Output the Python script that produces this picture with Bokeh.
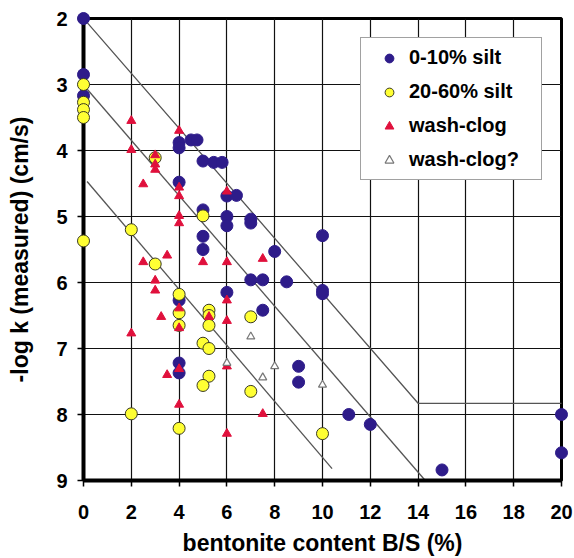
from bokeh.plotting import figure
from bokeh.models import Range1d, Legend, LegendItem, FixedTicker
from bokeh.embed import file_html
from bokeh.resources import INLINE

# ---- data ----
silt_low_x = [0, 0, 0, 4, 4, 4.5, 4.75, 5, 5.45, 5.8, 4, 6, 6.4, 5, 6, 6, 7, 7, 5, 5, 8, 10,
              7, 7.5, 8.5, 6, 4, 7.5, 10, 10, 4, 4, 9, 9, 11.1, 12, 15, 20, 20]
silt_low_y = [2.0, 2.85, 3.17, 3.88, 3.96, 3.84, 3.84, 4.16, 4.18, 4.18, 4.48, 4.69, 4.68, 4.9,
              5.0, 5.14, 5.04, 5.1, 5.3, 5.5, 5.53, 5.29, 5.96, 5.96, 5.99, 6.15, 6.27, 6.42,
              6.12, 6.17, 7.22, 7.37, 7.27, 7.51, 8.0, 8.15, 8.84, 8.0, 8.58]

silt_high_x = [0, 0, 0, 0, 0, 3, 5, 2, 3, 4, 4, 4, 5.25, 5.25, 5.25, 5, 5.25, 5.25, 5, 7, 7,
               2, 4, 10]
silt_high_y = [3.0, 3.27, 3.38, 3.5, 5.37, 4.11, 4.99, 5.2, 5.72, 6.18, 6.46, 6.65, 6.42, 6.5,
               6.65, 6.92, 7.0, 7.42, 7.56, 6.52, 7.65, 7.99, 8.21, 8.29]

clog_x = [2, 2, 4, 3, 3, 3, 2.5, 4, 4, 4, 4, 6, 2.5, 3.5, 5, 6, 7.5, 3, 3, 3.25, 2, 4, 4,
          5.25, 6, 6, 4, 3.5, 6, 4, 6, 7.5]
clog_y = [3.55, 3.99, 3.7, 4.07, 4.21, 4.29, 4.51, 4.56, 4.69, 4.99, 5.1, 4.62, 5.69, 5.59,
          5.69, 5.69, 5.64, 5.97, 6.12, 6.52, 6.77, 6.39, 6.69, 6.52, 6.27, 6.58, 7.31, 7.4,
          7.27, 7.85, 8.29, 7.99]

clogq_x = [7, 6, 8, 7.5, 10]
clogq_y = [6.82, 7.22, 7.27, 7.44, 7.55]

# envelope lines
env1_x = [0.1, 14.0, 20.2]
env1_y = [2.04, 7.83, 7.83]
env2_x = [0.1, 14.3]
env2_y = [3.05, 9.0]
env3_x = [0.15, 10.4]
env3_y = [4.47, 8.82]

x_ticks = [0, 2, 4, 6, 8, 10, 12, 14, 16, 18, 20]
y_ticks = [2, 3, 4, 5, 6, 7, 8, 9]

labels = ["0-10% silt", "20-60% silt", "wash-clog", "wash-clog?"]

FONT = "Liberation Sans"

p = figure(width=574, height=558, output_backend="svg", toolbar_location=None,
           x_range=Range1d(0, 20), y_range=Range1d(9, 2),
           min_border_left=83, min_border_right=13, min_border_top=18, min_border_bottom=75)
p.background_fill_color = "white"
p.border_fill_color = "white"
p.outline_line_color = "black"
p.outline_line_width = 3

p.xaxis.ticker = FixedTicker(ticks=x_ticks)
p.yaxis.ticker = FixedTicker(ticks=y_ticks)
for ax in (p.xaxis[0], p.yaxis[0]):
    ax.axis_line_width = 4
    ax.axis_line_color = "black"
    ax.major_tick_line_color = "black"
    ax.major_tick_line_width = 1.5
    ax.major_tick_out = 6
    ax.major_tick_in = 0
    ax.minor_tick_line_color = None
    ax.major_label_text_font = FONT
    ax.major_label_text_font_style = "bold"
    ax.major_label_text_font_size = "20px"
    ax.major_label_text_color = "black"
    ax.axis_label_text_font = FONT
    ax.axis_label_text_font_style = "bold"
    ax.axis_label_text_font_size = "23px"
    ax.axis_label_text_color = "black"

p.xaxis.axis_label = "bentonite content B/S (%)"
p.yaxis.axis_label = "-log k (measured) (cm/s)"
p.xaxis.major_label_standoff = 18
p.xaxis.axis_label_standoff = 8
p.yaxis.major_label_standoff = 10
p.yaxis.axis_label_standoff = 20

for g in (p.xgrid[0], p.ygrid[0]):
    g.grid_line_color = "#111111"
    g.grid_line_width = 1.2

for ex, ey in ((env1_x, env1_y), (env2_x, env2_y), (env3_x, env3_y)):
    p.line(ex, ey, line_color="#555555", line_width=1.3)

r_blue = p.scatter(silt_low_x, silt_low_y, marker="circle", size=12,
                   fill_color="#2E1C8A", line_color="#2E1C8A", line_width=1)
r_yel = p.scatter(silt_high_x, silt_high_y, marker="circle", size=12,
                  fill_color="#FFFF33", line_color="#3A3A22", line_width=1)
r_red = p.scatter(clog_x, clog_y, marker="triangle", size=9,
                  fill_color="#E0103C", line_color="#E0103C", line_width=1)
r_grey = p.scatter(clogq_x, clogq_y, marker="triangle", size=8,
                   fill_color="white", line_color="#777777", line_width=1.2)
for r in (r_blue, r_yel, r_red, r_grey):
    r.level = "overlay"

legend = Legend(items=[LegendItem(label=labels[0], renderers=[r_blue]),
                       LegendItem(label=labels[1], renderers=[r_yel]),
                       LegendItem(label=labels[2], renderers=[r_red]),
                       LegendItem(label=labels[3], renderers=[r_grey])],
                location="top_right", margin=19, padding=8, spacing=11,
                glyph_width=40, glyph_height=22, label_height=22, label_width=124,
                label_standoff=0,
                label_text_font=FONT, label_text_font_style="bold",
                label_text_font_size="20px", label_text_color="black",
                border_line_color="#444444", border_line_width=1.2,
                background_fill_color="white", background_fill_alpha=1.0)
p.add_layout(legend)

open("out.html", "w").write(file_html(p, INLINE))
